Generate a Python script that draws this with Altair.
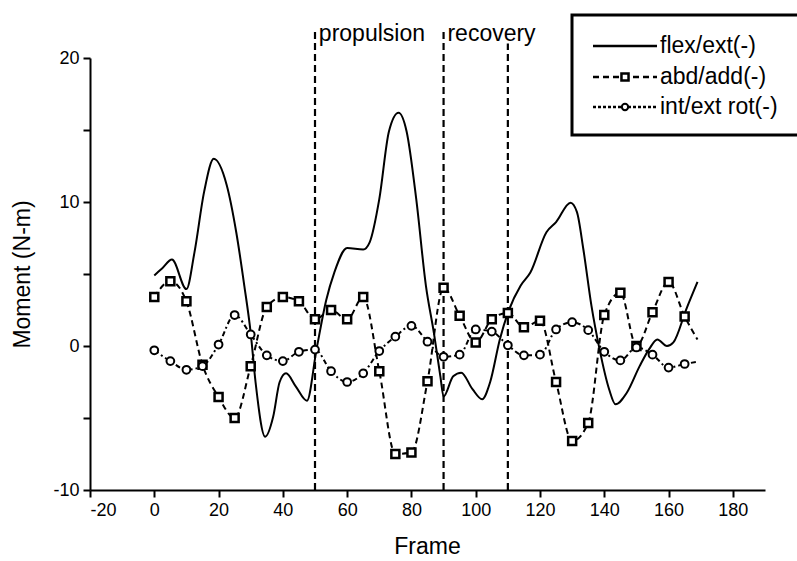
import altair as alt
import pandas as pd

# ---- data ----
flex_frame = [0, 2.5, 5.5, 10, 12.5, 15.5, 18.5, 22.5, 25.5, 28, 30, 31.5, 34.5, 37, 39, 41, 44, 47.5,
              50.5, 53.5, 56, 60, 65, 67, 70, 73, 76, 78.5, 81.5, 84.5, 87, 89, 90, 93, 95.5, 99,
              102, 104.5, 107.5, 110, 114, 117, 122, 125, 129.5, 131.5, 133.5, 136, 138.5, 141.5,
              143.5, 147, 151, 154, 156.5, 159.5, 161.5, 165.5, 169]
flex_val = [4.9, 5.4, 6.0, 3.95, 6.5, 10.7, 13.0, 11.2, 7.9, 4.2, 0.9, -2.5, -6.3, -4.9, -2.5, -1.9, -2.8, -3.8,
            -0.2, 3.2, 5.1, 6.8, 6.7, 7.2, 10.2, 14.9, 16.2, 14.9, 10.2, 4.2, 0.9, -2.1, -3.5, -2.1, -1.85, -3.0,
            -3.7, -2.5, 0.45, 2.3, 4.2, 5.1, 7.9, 8.6, 9.95, 9.3, 6.7, 2.8, -0.2, -3.0,
            -4.05, -3.25, -1.4, -0.2, 0.45, 0.0, 0.25, 2.55, 4.45]

abd_frame = [0, 5, 10, 15, 20, 25, 30, 35, 40, 45, 50, 55, 60, 65, 70, 75, 80, 85, 90, 95, 100,
             105, 110, 115, 120, 125, 130, 135, 140, 145, 150, 155, 160, 165, 169]
abd_val = [3.4, 4.5, 3.1, -1.3, -3.55, -5.0, -1.4, 2.7, 3.4, 3.1, 1.85, 2.5, 1.85, 3.4, -1.75, -7.5, -7.4,
           -2.45, 4.05, 2.1, 0.25, 1.85, 2.3, 1.3, 1.75, -2.5, -6.6, -5.35, 2.15, 3.7, 0.0, 2.35, 4.45,
           2.05, 0.45]

rot_frame = abd_frame
rot_val = [-0.3, -1.05, -1.65, -1.4, 0.1, 2.15, 0.8, -0.65, -1.05, -0.4, -0.25, -1.75, -2.5, -1.9, -0.35,
           0.65, 1.4, 0.3, -0.75, -0.6, 1.15, 1.0, 0.05, -0.65, -0.6, 1.15, 1.65, 1.1, -0.4, -1.0, -0.1,
           -0.6, -1.5, -1.25, -1.1]

phase_frame = [50, 90, 110]
phase_top = [21.8, 21.8, 21.0]
phase_label = ["propulsion", "recovery"]
phase_label_frame = [51.2, 91.2]

legend_labels = ["flex/ext(-)", "abd/add(-)", "int/ext rot(-)"]

x_ticks = list(range(-20, 191, 10))
y_ticks = list(range(-10, 21, 5))

FONT = "Liberation Sans"

flex_df = pd.DataFrame({"frame": flex_frame, "value": flex_val})
abd_df = pd.DataFrame({"frame": abd_frame, "value": abd_val})
rot_df = pd.DataFrame({"frame": rot_frame, "value": rot_val})
phase_df = pd.DataFrame({"frame": phase_frame, "bottom": [-10] * 3, "top": phase_top})
label_df = pd.DataFrame({"frame": phase_label_frame, "text": phase_label, "y": [21.2, 21.2]})

xs = alt.Scale(domain=[-20, 190], nice=False, zero=False)
ys = alt.Scale(domain=[-10, 20], nice=False, zero=False)

x_axis = alt.Axis(values=x_ticks, labelExpr="datum.value % 20 == 0 ? toString(datum.value) : ''",
                  title="Frame", grid=False, domainColor="black", domainWidth=2,
                  tickColor="black", tickWidth=2, tickSize=7, labelFont=FONT, labelFontSize=18,
                  labelColor="black", labelPadding=4, titleFont=FONT, titleFontSize=23,
                  titleFontWeight="normal", titleColor="black", titleX=337, titleY=56,
                  titleBaseline="middle")
y_axis = alt.Axis(values=y_ticks, labelExpr="datum.value % 10 == 0 ? toString(datum.value) : ''",
                  title="Moment (N-m)", grid=False, domainColor="black", domainWidth=2,
                  tickColor="black", tickWidth=2, tickSize=7, labelFont=FONT, labelFontSize=18,
                  labelColor="black", labelPadding=4, titleFont=FONT, titleFontSize=23,
                  titleFontWeight="normal", titleColor="black", titleX=-68, titleY=216,
                  titleAngle=-90, titleBaseline="middle", titleAlign="center")

X = alt.X("frame:Q", scale=xs, axis=x_axis)
Y = alt.Y("value:Q", scale=ys, axis=y_axis)

flex_line = alt.Chart(flex_df).mark_line(color="black", strokeWidth=2, interpolate="monotone").encode(x=X, y=Y)
abd_line = alt.Chart(abd_df).mark_line(color="black", strokeWidth=2, strokeDash=[6, 4],
                                       interpolate="monotone").encode(x=X, y=Y)
abd_pts = alt.Chart(abd_df).transform_filter("datum.frame % 5 == 0").mark_point(
    shape="square", size=64, filled=True, fill="white", stroke="black", strokeWidth=2.5, opacity=1
).encode(x=X, y=Y)
rot_line = alt.Chart(rot_df).mark_line(color="black", strokeWidth=2, strokeDash=[5, 3, 2, 3],
                                       interpolate="monotone").encode(x=X, y=Y)
rot_pts = alt.Chart(rot_df).transform_filter("datum.frame % 5 == 0").mark_point(
    shape="circle", size=60, filled=True, fill="white", stroke="black", strokeWidth=2, opacity=1
).encode(x=X, y=Y)

phase_rules = alt.Chart(phase_df).mark_rule(color="black", strokeWidth=2.2, strokeDash=[7, 4]).encode(
    x="frame:Q", y="bottom:Q", y2="top:Q")
phase_text = alt.Chart(label_df).mark_text(font=FONT, fontSize=23, align="left", baseline="alphabetic",
                                          color="black").encode(x="frame:Q", y="y:Q", text="text:N")

# ---- legend (drawn by hand, positions in pixels relative to the plot area) ----
one = pd.DataFrame({"a": [0]})
leg_box = alt.Chart(one).mark_rect(fill="white", stroke="black", strokeWidth=3).encode(
    x=alt.value(482), x2=alt.value(720), y=alt.value(-43), y2=alt.value(77))
leg_rows = [-12, 19, 49]
leg_dash = [[1, 0], [6, 4], [3, 2]]
leg_layers = []
for i, (lab, yy, dash) in enumerate(zip(legend_labels, leg_rows, leg_dash)):
    leg_layers.append(alt.Chart(one).mark_rule(color="black", strokeWidth=2.5, strokeDash=dash).encode(
        x=alt.value(503), x2=alt.value(567), y=alt.value(yy)))
    leg_layers.append(alt.Chart(one).mark_text(font=FONT, fontSize=23, align="left", baseline="middle",
                                               color="black").encode(
        x=alt.value(570), y=alt.value(yy), text=alt.value(lab)))
leg_layers.append(alt.Chart(one).mark_point(shape="square", size=50, filled=True, fill="white",
                                            stroke="black", strokeWidth=2.5, opacity=1).encode(
    x=alt.value(535), y=alt.value(leg_rows[1])))
leg_layers.append(alt.Chart(one).mark_point(shape="circle", size=40, filled=True, fill="white",
                                            stroke="black", strokeWidth=2, opacity=1).encode(
    x=alt.value(535), y=alt.value(leg_rows[2])))

chart = alt.layer(
    phase_rules, flex_line, abd_line, rot_line, abd_pts, rot_pts, phase_text, leg_box, *leg_layers
).properties(
    width=675, height=432,
    autosize=alt.AutoSizeParams(type="none"),
    padding={"left": 90, "top": 58, "right": 32, "bottom": 71},
).configure(
    background="white",
    view=alt.ViewConfig(stroke="transparent", strokeWidth=0),
)

chart.save("out.html", embed_options={"renderer": "svg", "actions": False})
